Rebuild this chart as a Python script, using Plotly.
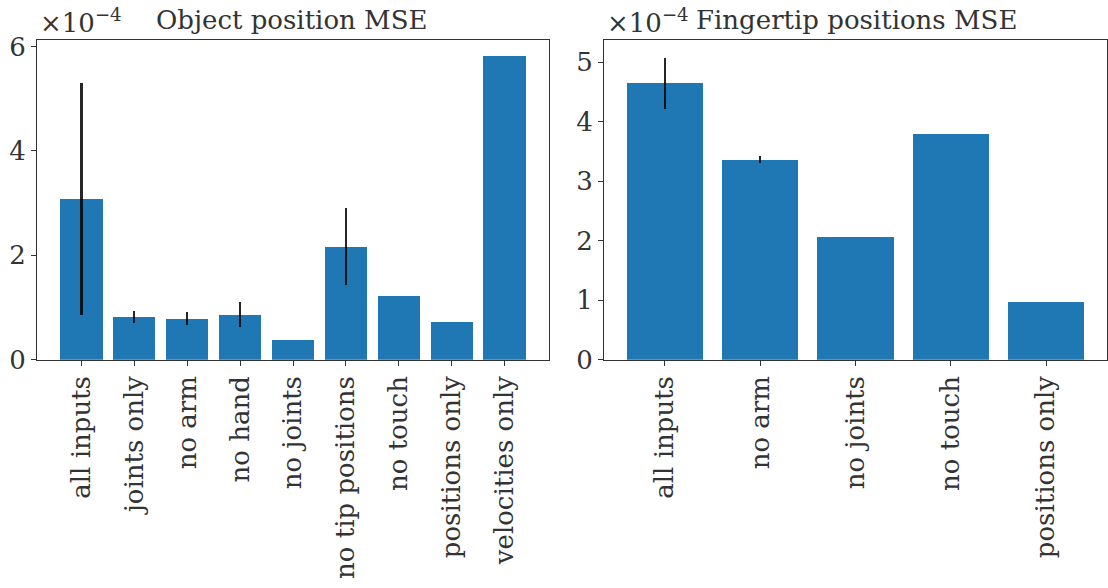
import plotly.graph_objects as go

# Values in units of 1e-4
object_labels = ["all inputs", "joints only", "no arm", "no hand", "no joints",
                 "no tip positions", "no touch", "positions only", "velocities only"]
object_mse = [3.08, 0.82, 0.79, 0.87, 0.38, 2.17, 1.22, 0.73, 5.82]
object_err = [2.22, 0.12, 0.12, 0.24, 0.0, 0.74, 0.0, 0.0, 0.0]

finger_labels = ["all inputs", "no arm", "no joints", "no touch", "positions only"]
finger_mse = [4.65, 3.36, 2.06, 3.80, 0.98]
finger_err = [0.43, 0.06, 0.0, 0.0, 0.0]

BAR = "#1f77b4"
INK = "#333333"
FONT = "DejaVu Serif"
FS = 26
W, H = 1108, 588

fig = go.Figure()

fig.add_trace(go.Bar(
    x=list(range(len(object_labels))), y=object_mse, width=0.8,
    marker=dict(color=BAR, line=dict(width=0)),
    error_y=dict(type="data", array=object_err, visible=True,
                 width=0, thickness=2.2, color="rgba(0,0,0,0.85)"),
    xaxis="x", yaxis="y", showlegend=False,
))
fig.add_trace(go.Bar(
    x=list(range(len(finger_labels))), y=finger_mse, width=0.8,
    marker=dict(color=BAR, line=dict(width=0)),
    error_y=dict(type="data", array=finger_err, visible=True,
                 width=0, thickness=2.2, color="rgba(0,0,0,0.85)"),
    xaxis="x2", yaxis="y2", showlegend=False,
))

def xpx(px):
    return px / W

def ypx(py):
    return (H - py) / H

axis_common = dict(
    showline=True, linecolor=INK, linewidth=1, mirror=True,
    ticks="outside", ticklen=5, tickwidth=1, tickcolor=INK,
    showgrid=False, zeroline=False,
    tickfont=dict(family=FONT, size=FS, color=INK),
)

left_x = (37, 549)
right_x = (604, 1107)
top_y, bot_y = 33, 366

n1, n2 = len(object_labels), len(finger_labels)
fig.update_layout(
    width=W, height=H,
    margin=dict(l=0, r=0, t=0, b=0),
    paper_bgcolor="white", plot_bgcolor="white",
    bargap=0,
    xaxis=dict(domain=[xpx(left_x[0]), xpx(left_x[1])], anchor="y",
               range=[-0.84, n1 - 0.16],
               tickmode="array", tickvals=list(range(n1)), ticktext=object_labels,
               tickangle=-90, **axis_common),
    yaxis=dict(domain=[ypx(bot_y), ypx(top_y)], anchor="x",
               range=[0, 6.13], tickmode="array", tickvals=[0, 2, 4, 6],
               ticktext=["0", "2", "4", "6"], **axis_common),
    xaxis2=dict(domain=[xpx(right_x[0]), xpx(right_x[1])], anchor="y2",
                range=[-0.64, n2 - 0.36],
                tickmode="array", tickvals=list(range(n2)), ticktext=finger_labels,
                tickangle=-90, **axis_common),
    yaxis2=dict(domain=[ypx(bot_y), ypx(top_y)], anchor="x2",
                range=[0, 5.38], tickmode="array", tickvals=[0, 1, 2, 3, 4, 5],
                ticktext=["0", "1", "2", "3", "4", "5"], **axis_common),
)

annotations = [
    dict(text="Object position MSE", x=291 / W, y=ypx(top_y) + 0.004,
         xanchor="center", yanchor="bottom"),
    dict(text="Fingertip positions MSE", x=856 / W, y=ypx(top_y) + 0.004,
         xanchor="center", yanchor="bottom"),
    dict(text="×10<sup>−4</sup>", x=xpx(left_x[0] + 1), y=ypx(top_y) + 0.0,
         xanchor="left", yanchor="bottom"),
    dict(text="×10<sup>−4</sup>", x=xpx(right_x[0] + 1), y=ypx(top_y) + 0.0,
         xanchor="left", yanchor="bottom"),
]
for a in annotations:
    fig.add_annotation(xref="paper", yref="paper", showarrow=False,
                       font=dict(family=FONT, size=FS, color=INK), **a)

fig.write_html("out.html")
